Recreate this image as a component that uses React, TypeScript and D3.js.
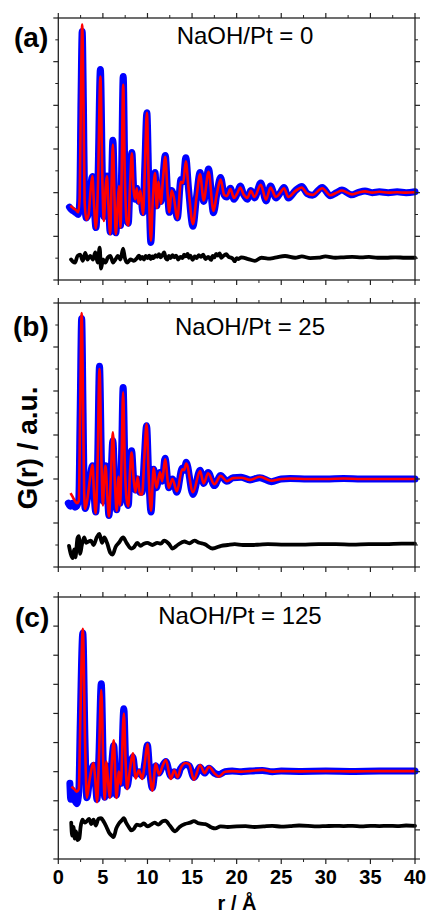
import React from 'react'
import * as d3 from 'd3'

// ---- data (r in Å, G(r) in arbitrary units per panel) ----

// (a) NaOH/Pt = 0
const rA = [1.25, 1.35, 1.7, 2.0, 2.25, 2.4, 2.55, 2.68, 2.82, 2.95,
  3.15, 3.4, 3.6, 3.82, 4.0, 4.22, 4.45, 4.72, 4.95, 5.1,
  5.3, 5.45, 5.62, 5.82, 5.95, 6.12, 6.3, 6.45, 6.65, 6.8,
  6.98, 7.1, 7.28, 7.45, 7.65, 7.85, 8.05, 8.25, 8.45, 8.62,
  8.8, 9.0, 9.2, 9.5, 9.7, 9.93, 10.15, 10.38, 10.6, 10.85,
  11.05, 11.25, 11.5, 11.75, 12.0, 12.25, 12.45, 12.7, 12.95, 13.35,
  13.75, 14.0, 14.3, 14.6, 15.1, 15.5, 15.9, 16.3, 16.85, 17.4,
  17.8, 18.2, 18.6, 18.9, 19.3, 19.7, 20.1, 20.4, 20.8, 21.2,
  21.6, 22.0, 22.7, 23.3, 23.8, 24.4, 24.9, 25.3, 25.8, 26.6,
  27.3, 27.9, 28.5, 29.6, 30.5, 31.2, 31.8, 32.9, 33.6, 34.4,
  35.2, 36.0, 37.0, 38.0, 39.0, 40.0]
const obsA = [-0.33, -0.36, -0.42, -0.46, -0.5, -0.2, 2.2, 3.69, 2.0, -0.2,
  -0.58, -0.45, 0.05, 0.37, -0.2, -0.8, 0.3, 2.82, 0.3, -0.55,
  0.3, 0.38, -0.2, -0.9, 0.0, 1.2, 0.0, -0.92, -0.3, 0.05,
  -0.75, 0.5, 2.66, 0.6, -0.62, -0.7, 0.3, 0.92, 0.1, -0.15,
  0.1, -0.2, 0.0, -0.46, 0.6, 1.83, 0.2, -1.14, -0.1, 0.46,
  -0.3, 0.2, -0.2, 0.4, 0.85, 0.0, -0.45, 0.05, -0.1, -0.58,
  0.3, 0.25, 0.8, 0.1, -0.77, -0.1, 0.46, -0.2, 0.54, -0.46,
  0.0, 0.35, -0.05, -0.1, 0.1, -0.15, 0.0, 0.15, -0.05, -0.15,
  0.05, -0.12, 0.22, -0.19, 0.15, -0.12, 0.0, 0.12, -0.12, 0.05,
  0.14, -0.02, -0.06, 0.12, -0.07, 0.0, 0.06, -0.05, 0.0, 0.04,
  0.0, 0.02, 0.0, 0.02, 0.0, 0.02]
const fitA = [null, -0.3, -0.36, -0.4, -0.45, -0.1, 2.4, 3.85, 2.1, -0.2,
  -0.62, -0.5, 0.0, 0.38, -0.25, -0.82, 0.2, 2.66, 0.2, -0.65,
  0.1, 0.38, -0.3, -0.95, 0.0, 1.1, -0.1, -0.95, -0.3, 0.15,
  -0.8, 0.4, 2.47, 0.5, -0.65, -0.75, 0.2, 0.9, 0.05, -0.15,
  0.1, -0.25, 0.05, -0.5, 0.5, 1.83, 0.1, -1.1, -0.15, 0.45,
  -0.35, 0.25, -0.25, 0.35, 0.82, 0.0, -0.45, 0.05, -0.1, -0.6,
  0.25, 0.22, 0.72, 0.1, -0.72, -0.1, 0.42, -0.18, 0.48, -0.42,
  0.0, 0.3, -0.05, -0.08, 0.08, -0.12, 0.0, 0.12, -0.05, -0.12,
  0.04, -0.1, 0.18, -0.16, 0.12, -0.1, 0.0, 0.1, -0.1, 0.04,
  0.12, -0.02, -0.05, 0.1, -0.06, 0.0, 0.05, -0.04, 0.0, 0.03,
  0.0, 0.02, 0.0, 0.01, 0.0, 0.01]
const diffRA = [1.43, 1.65, 1.88, 2.15, 2.45, 2.75, 3.02, 3.28, 3.58, 3.88,
  4.15, 4.41, 4.64, 4.79, 5.01, 5.28, 5.54, 5.84, 6.14, 6.41,
  6.67, 6.97, 7.27, 7.46, 7.72, 8.1, 8.48,
  8.85, 9.05, 9.2, 9.4, 9.61, 9.8, 10.0, 10.2, 10.36, 10.55,
  10.7, 10.9, 11.11, 11.3, 11.49, 11.7, 11.87, 12.05, 12.24, 12.4,
  12.6, 12.8, 13.0, 13.2, 13.45, 13.7, 13.94, 14.1, 14.3, 14.5,
  14.65, 14.8, 15.07, 15.3, 15.5, 15.75, 16.01, 16.25, 16.5, 16.8,
  17.14, 17.3, 17.5, 17.7, 17.89, 18.1, 18.27, 18.5, 18.83, 19.1,
  19.4, 19.6, 19.78, 20.0, 20.2, 20.53,
  21.3, 22.04, 22.79, 23.5, 24.3, 25.43, 26.56, 27.31, 28.25, 29.19,
  29.95, 31.08, 32.0, 32.96, 34.0, 34.84, 35.8, 36.73, 37.8, 38.9, 40.0]
const diffA = [-1.53, -1.58, -1.6, -1.45, -1.42, -1.56, -1.38, -1.53, -1.45, -1.53,
  -1.37, -1.6, -1.26, -1.74, -1.53, -1.6, -1.49, -1.45, -1.6, -1.53,
  -1.45, -1.53, -1.28, -1.49, -1.6, -1.53, -1.56,
  -1.49, -1.44, -1.52, -1.47, -1.53, -1.45, -1.5, -1.44, -1.52, -1.46,
  -1.5, -1.43, -1.47, -1.41, -1.48, -1.42, -1.37, -1.5, -1.53, -1.45,
  -1.5, -1.43, -1.48, -1.44, -1.53, -1.47, -1.5, -1.42, -1.46, -1.4,
  -1.49, -1.44, -1.54, -1.46, -1.5, -1.43, -1.47, -1.42, -1.52, -1.47,
  -1.54, -1.45, -1.48, -1.4, -1.44, -1.39, -1.49, -1.45, -1.41, -1.47,
  -1.49, -1.52, -1.57, -1.5, -1.52, -1.48,
  -1.52, -1.56, -1.49, -1.51, -1.49, -1.45, -1.49, -1.46, -1.5, -1.49,
  -1.46, -1.49, -1.48, -1.47, -1.48, -1.47, -1.49, -1.49, -1.48, -1.49, -1.49]

// (b) NaOH/Pt = 25
const rB = [1.12, 1.37, 1.6, 1.87, 2.1, 2.3, 2.45, 2.62, 2.78, 2.9,
  3.02, 3.3, 3.55, 3.83, 4.0, 4.2, 4.4, 4.62, 4.85, 5.0,
  5.15, 5.3, 5.5, 5.68, 5.9, 6.12, 6.35, 6.55, 6.75, 6.92,
  7.1, 7.27, 7.45, 7.65, 7.85, 8.05, 8.22, 8.45, 8.65, 8.9,
  9.15, 9.4, 9.65, 9.9, 10.15, 10.4, 10.7, 11.0, 11.4, 11.65,
  11.97, 12.4, 12.8, 13.3, 13.9, 14.1, 14.35, 15.1, 15.9, 16.3,
  16.8, 17.5, 18.2, 18.9, 19.6, 20.5, 21.5, 22.6, 23.9, 25.0,
  26.0, 28.0, 30.0, 32.0, 34.0, 36.0, 38.0, 40.0]
const obsB = [-0.55, -0.62, -0.55, -0.64, -0.6, -0.45, 1.5, 3.65, 1.5, -0.3,
  -0.67, -0.4, 0.0, 0.3, -0.3, -0.75, 0.3, 2.56, 0.3, -0.5,
  0.1, 0.3, -0.3, -0.83, 0.0, 0.87, -0.2, -0.7, 0.0, -0.55,
  0.6, 2.08, 0.5, -0.4, -0.6, 0.3, 0.64, 0.0, -0.25, 0.0,
  -0.3, -0.3, 0.5, 1.21, 0.0, -0.75, 0.22, -0.2, 0.15, -0.05,
  0.47, -0.2, 0.0, -0.3, 0.25, 0.2, 0.38, -0.35, 0.2, -0.1,
  0.15, -0.15, 0.08, -0.05, 0.03, 0.04, -0.02, 0.03, -0.06, 0.0,
  0.01, 0.0, 0.0, 0.01, 0.0, 0.0, 0.0, 0.0]
const fitB = [null, -0.32, -0.4, -0.5, -0.55, -0.5, 1.5, 3.77, 1.6, -0.3,
  -0.68, -0.4, 0.0, 0.32, -0.3, -0.78, 0.3, 2.5, 0.3, -0.6,
  0.0, 0.3, -0.4, -0.85, 0.1, 1.06, -0.1, -0.72, 0.05, -0.6,
  0.5, 1.97, 0.4, -0.45, -0.62, 0.2, 0.6, 0.0, -0.3, 0.05,
  -0.35, -0.35, 0.5, 1.25, 0.0, -0.72, 0.25, -0.2, 0.15, -0.05,
  0.45, -0.2, 0.0, -0.28, 0.22, 0.2, 0.35, -0.3, 0.18, -0.1,
  0.13, -0.12, 0.07, -0.05, 0.02, 0.03, -0.02, 0.05, -0.04, 0.0,
  0.01, 0.0, 0.0, 0.01, 0.0, 0.0, 0.0, 0.0]
const diffRB = [1.2, 1.39, 1.62, 1.77, 1.92, 2.15, 2.3, 2.45, 2.64, 2.9,
  3.13, 3.4, 3.65, 3.95, 4.33, 4.6, 4.9, 5.16, 5.46, 5.84,
  6.1, 6.41, 6.79, 7.27, 7.65, 8.17, 8.48, 8.85, 9.23, 9.6,
  9.98, 10.55, 11.1, 11.5, 11.87, 12.43, 12.8, 13.38, 14.13, 14.7,
  15.26, 15.8, 16.4, 17.3, 18.27, 19.0, 19.78, 20.7, 21.66, 22.6,
  23.5, 25.4, 27.3, 29.2, 31.1, 33.0, 34.8, 36.7, 38.5, 40.0]
const diffB = [-1.52, -1.7, -1.8, -1.6, -1.78, -1.35, -1.3, -1.7, -1.5, -1.33,
  -1.45, -1.42, -1.4, -1.5, -1.32, -1.25, -1.45, -1.33, -1.45, -1.68,
  -1.72, -1.55, -1.45, -1.33, -1.45, -1.58, -1.55, -1.45, -1.52, -1.47,
  -1.45, -1.5, -1.45, -1.47, -1.4, -1.48, -1.58, -1.5, -1.42, -1.46,
  -1.4, -1.45, -1.48, -1.58, -1.52, -1.5, -1.48, -1.5, -1.5, -1.49,
  -1.48, -1.49, -1.49, -1.48, -1.48, -1.49, -1.48, -1.48, -1.47, -1.47]

// (c) NaOH/Pt = 125
const rC = [1.3, 1.4, 1.5, 1.6, 1.8, 2.08, 2.3, 2.45, 2.75, 3.0,
  3.2, 3.5, 3.96, 4.15, 4.34, 4.55, 4.82, 5.05, 5.2, 5.39,
  5.55, 5.77, 6.0, 6.22, 6.4, 6.52, 6.8, 7.0, 7.35, 7.55,
  7.72, 8.0, 8.36, 8.67, 9.04, 9.42, 9.7, 9.99, 10.25, 10.55,
  10.93, 11.3, 11.7, 12.06, 12.62, 13.0, 13.38, 13.7, 14.3, 14.69,
  15.2, 15.9, 16.4, 16.9, 17.5, 18.0, 18.7, 19.5, 20.5, 21.5,
  22.9, 24.0, 25.0, 27.0, 30.0, 33.0, 36.0, 40.0]
const obsC = [-0.4, -0.95, -0.6, -0.75, -0.95, -1.1, -0.7, 1.5, 4.76, 1.0,
  -0.9, -0.3, 0.22, -0.3, -0.95, 0.5, 3.02, 0.2, -0.88, 0.2,
  -0.2, -0.8, 0.3, 0.9, -0.2, -0.8, 0.0, -0.4, 2.16, 0.3,
  -0.5, 0.0, 0.5, -0.1, 0.0, -0.15, 0.3, 0.92, 0.0, -0.56,
  0.2, -0.05, 0.2, 0.35, -0.15, 0.0, -0.15, 0.1, 0.25, 0.2,
  -0.2, 0.15, -0.05, 0.12, -0.05, -0.1, 0.0, 0.02, 0.0, 0.02,
  0.04, 0.0, 0.02, 0.01, 0.02, 0.01, 0.02, 0.02]
const fitC = [null, null, -0.51, -0.55, -0.6, -0.69, -0.6, 1.5, 4.91, 1.0,
  -0.9, -0.3, 0.3, -0.3, -1.05, 0.4, 2.8, 0.2, -0.95, 0.35,
  -0.2, -0.9, 0.3, 1.08, -0.2, -0.9, 0.0, -0.45, 2.0, 0.3,
  -0.6, 0.0, 0.63, -0.23, 0.05, -0.25, 0.3, 0.95, 0.0, -0.65,
  0.27, -0.1, 0.2, 0.4, -0.25, 0.05, -0.2, 0.1, 0.3, 0.25,
  -0.28, 0.23, -0.05, 0.17, -0.05, -0.17, 0.0, 0.02, 0.0, 0.02,
  0.06, 0.0, 0.02, 0.01, 0.02, 0.01, 0.02, 0.02]
const diffRC = [1.45, 1.55, 1.7, 1.85, 2.0, 2.15, 2.35, 2.5, 2.7, 2.95,
  3.2, 3.45, 3.7, 3.95, 4.2, 4.5, 4.8, 5.1, 5.4, 5.7,
  6.0, 6.2, 6.5, 6.8, 7.1, 7.35, 7.6, 7.9, 8.2, 8.5,
  8.8, 9.2, 9.6, 10.0, 10.4, 10.8, 11.2, 11.7, 12.0, 12.5,
  13.1, 13.6, 14.2, 14.8, 15.2, 15.8, 16.5, 17.2, 17.6, 18.2,
  19, 20, 21, 22, 23, 24, 25, 26, 27, 28,
  29, 30, 31, 32, 33, 34, 35, 36, 37, 38,
  39, 40]
const diffC = [-1.75, -2.2, -1.9, -2.3, -2.05, -2.35, -2.3, -1.9, -1.65, -1.75,
  -1.7, -1.62, -1.8, -1.65, -1.85, -1.62, -1.6, -1.72, -1.9, -2.1,
  -2.2, -2.25, -1.95, -1.78, -1.68, -1.6, -1.75, -1.9, -2.02, -1.95,
  -1.82, -1.85, -1.78, -1.88, -1.82, -1.75, -1.82, -1.7, -1.68, -1.85,
  -2.05, -1.9, -1.8, -1.75, -1.7, -1.78, -1.8, -1.92, -1.95, -1.88,
  -1.9, -1.88, -1.87, -1.9, -1.88, -1.86, -1.89, -1.87, -1.85, -1.86,
  -1.88, -1.87, -1.86, -1.87, -1.86, -1.88, -1.86, -1.87, -1.86, -1.87,
  -1.85, -1.86]

const tags = ['(a)', '(b)', '(c)']
const titles = ['NaOH/Pt = 0', 'NaOH/Pt = 25', 'NaOH/Pt = 125']
const xTicks = [0, 5, 10, 15, 20, 25, 30, 35, 40]
const xMinorTicks = [2.5, 7.5, 12.5, 17.5, 22.5, 27.5, 32.5, 37.5]

const series = [
  { r: rA, obs: obsA, fit: fitA, dr: diffRA, diff: diffA },
  { r: rB, obs: obsB, fit: fitB, dr: diffRB, diff: diffB },
  { r: rC, obs: obsC, fit: fitC, dr: diffRC, diff: diffC },
]

const W = 428
const H = 916
const FONT = 'Liberation Sans, Arial, Helvetica, sans-serif'
const X0 = 58.3
const X1 = 415

// panel frames and where the labels sit
const boxes = [
  { top: 18, bottom: 280, domain: [-2, 4], minor: true, tagX: 14, tagY: 47, titleX: 245, titleY: 44 },
  { top: 303, bottom: 567, domain: [-2, 4], minor: true, tagX: 13, tagY: 336, titleX: 250, titleY: 335 },
  { top: 597, bottom: 859, domain: [-3, 6], minor: false, tagX: 15, tagY: 627, titleX: 240, titleY: 624 },
]

const x = d3.scaleLinear().domain([0, 40]).range([X0, X1])

function Panel({ i }: { i: number }) {
  const b = boxes[i]
  const s = series[i]
  const y = d3.scaleLinear().domain(b.domain).range([b.bottom, b.top])

  const line = d3.line<[number, number | null]>()
    .defined(d => d[1] != null)
    .x(d => x(d[0]))
    .y(d => y(d[1] as number))
    .curve(d3.curveMonotoneX)

  const obsPath = line(d3.zip(s.r, s.obs) as any) || ''
  const fitPath = line(d3.zip(s.r, s.fit) as any) || ''
  const diffPath = line(d3.zip(s.dr, s.diff) as any) || ''

  const yMajor = d3.range(b.domain[0], b.domain[1] + 0.001, 1)
  const yMinor = b.minor ? d3.range(b.domain[0] + 0.5, b.domain[1], 1) : []
  const stroke = '#222'

  return (
    <g>
      <path d={obsPath} fill="none" stroke="#0000ff" strokeWidth={7} strokeLinejoin="round" strokeLinecap="round" />
      <path d={fitPath} fill="none" stroke="#ff0000" strokeWidth={2.6} strokeLinejoin="round" />
      <path d={diffPath} fill="none" stroke="#000" strokeWidth={3.8} strokeLinejoin="round" strokeLinecap="round" />

      {/* frame */}
      <rect x={X0} y={b.top} width={X1 - X0} height={b.bottom - b.top} fill="none" stroke={stroke} strokeWidth={1.3} />

      {/* x ticks, top and bottom, pointing out */}
      {xTicks.map(t => (
        <g key={'xt' + t}>
          <line x1={x(t)} x2={x(t)} y1={b.top} y2={b.top - 5} stroke={stroke} strokeWidth={1.2} />
          <line x1={x(t)} x2={x(t)} y1={b.bottom} y2={b.bottom + 5} stroke={stroke} strokeWidth={1.2} />
        </g>
      ))}
      {xMinorTicks.map(t => (
        <g key={'xm' + t}>
          <line x1={x(t)} x2={x(t)} y1={b.top} y2={b.top - 3} stroke={stroke} strokeWidth={1} />
          <line x1={x(t)} x2={x(t)} y1={b.bottom} y2={b.bottom + 3} stroke={stroke} strokeWidth={1} />
        </g>
      ))}

      {/* y ticks, left and right */}
      {yMajor.map(t => (
        <g key={'yt' + t}>
          <line x1={X0} x2={X0 - 5} y1={y(t)} y2={y(t)} stroke={stroke} strokeWidth={1.2} />
          <line x1={X1} x2={X1 + 5} y1={y(t)} y2={y(t)} stroke={stroke} strokeWidth={1.2} />
        </g>
      ))}
      {yMinor.map(t => (
        <g key={'ym' + t}>
          <line x1={X0} x2={X0 - 3} y1={y(t)} y2={y(t)} stroke={stroke} strokeWidth={1} />
          <line x1={X1} x2={X1 + 3} y1={y(t)} y2={y(t)} stroke={stroke} strokeWidth={1} />
        </g>
      ))}

      <text x={b.tagX} y={b.tagY} fontFamily={FONT} fontWeight="bold" fontSize={28} fill="#000">{tags[i]}</text>
      <text x={b.titleX} y={b.titleY} fontFamily={FONT} fontSize={24} textAnchor="middle" fill="#000">{titles[i]}</text>

      {i === 2 && xTicks.map(t => (
        <text key={'xl' + t} x={x(t)} y={884} fontFamily={FONT} fontWeight="bold" fontSize={20} textAnchor="middle" fill="#000">{t}</text>
      ))}
    </g>
  )
}

export default function App() {
  return (
    <svg width={W} height={H} viewBox={`0 0 ${W} ${H}`}
      style={{ position: 'absolute', left: 0, top: 0, background: '#fff' }}>
      <rect width={W} height={H} fill="#fff" />
      {[0, 1, 2].map(i => <Panel key={i} i={i} />)}
      <text x={237} y={910} fontFamily={FONT} fontWeight="bold" fontSize={20} textAnchor="middle" fill="#000">r / Å</text>
      <text transform="translate(37,448) rotate(-90)" fontFamily={FONT} fontWeight="bold" fontSize={28}
        textAnchor="middle" fill="#000">G(r) / a.u.</text>
    </svg>
  )
}
